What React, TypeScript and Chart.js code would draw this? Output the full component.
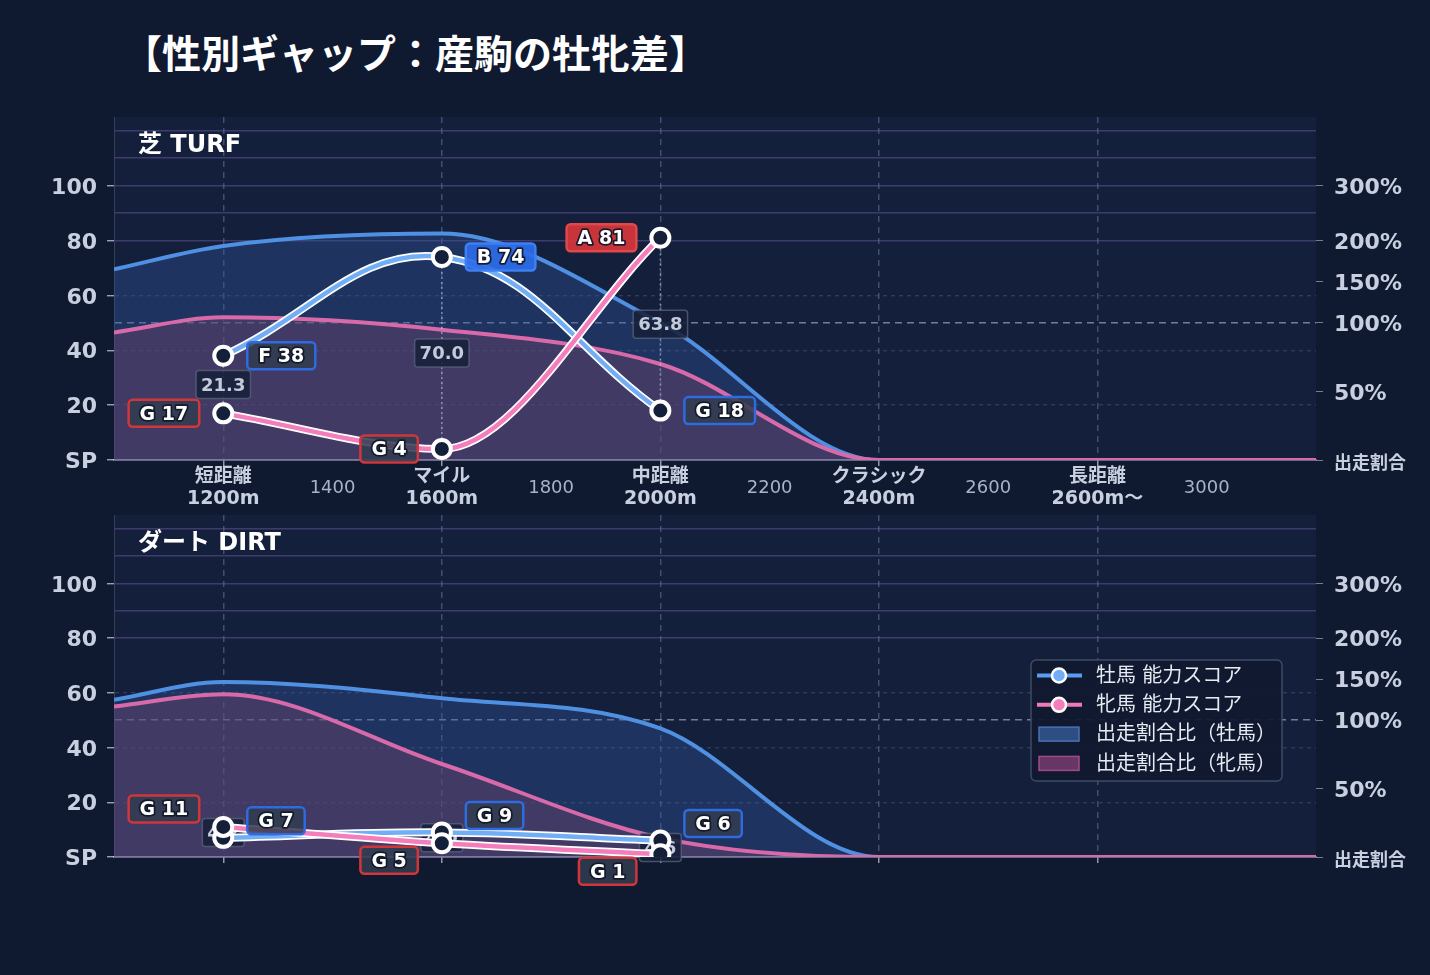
import React, { useEffect, useRef } from 'react';
import { Chart, registerables } from 'chart.js';

Chart.register(...registerables);

const LATIN = "'DejaVu Sans', 'Noto Sans CJK JP', sans-serif";
const CJK = "'Noto Sans CJK JP', 'DejaVu Sans', sans-serif";
const PAGE_BG = '#0f192f';
const PLOT_BG = '#131f3b';

// ---- data ----
const scoreDistances = [1200, 1600, 2000];
const turfMaleScores = [38, 74, 18];
const turfFemaleScores = [17, 4, 81];
const turfMaleGrades = ['F', 'B', 'G'];
const turfFemaleGrades = ['G', 'G', 'A'];
const turfGapLabels = ['21.3', '70.0', '63.8'];

const dirtMaleScores = [7, 9, 6];
const dirtFemaleScores = [11, 5, 1];
const dirtMaleGrades = ['G', 'G', 'G'];
const dirtFemaleGrades = ['G', 'G', 'G'];
const dirtGapLabels = ['4.2', '4.0', '4.6'];

const shareDistances = [1000, 1200, 1600, 2000, 2400, 2800, 3200];
const turfMaleShare = [69.5, 78, 82.5, 50, 0, 0, 0];
const turfFemaleShare = [46.5, 52, 47.5, 35, 0, 0, 0];
const dirtMaleShare = [57.5, 64, 58, 47, 0, 0, 0];
const dirtFemaleShare = [55, 59.5, 34, 7, 0, 0, 0];

const xTickValues = [1200, 1400, 1600, 1800, 2000, 2200, 2400, 2600, 2800, 3000];
const xCategoryLabels: Record<number, string[]> = {
  1200: ['短距離', '1200m'],
  1600: ['マイル', '1600m'],
  2000: ['中距離', '2000m'],
  2400: ['クラシック', '2400m'],
  2800: ['長距離', '2600m〜'],
};
const yGridValues = [0, 10, 20, 30, 40, 50, 60, 70, 80, 90, 100, 110, 120];
const leftTickLabels: Record<number, string> = { 0: 'SP', 20: '20', 40: '40', 60: '60', 80: '80', 100: '100' };
const rightTickValues = [0, 25, 50, 65, 80, 100];
const rightTickLabels = ['出走割合', '50%', '100%', '150%', '200%', '300%'];
const legendLabels = ['牡馬 能力スコア', '牝馬 能力スコア', '出走割合比（牡馬）', '出走割合比（牝馬）'];
const panelTitles = ['芝 TURF', 'ダート DIRT'];

// ---- styles ----
const MALE_AREA_LINE = '#4f90e2';
const MALE_AREA_FILL = 'rgba(50,90,160,0.36)';
const FEMALE_AREA_LINE = '#d86aaa';
const FEMALE_AREA_FILL = 'rgba(112,68,108,0.42)';
const MALE_SCORE = '#72aef5';
const FEMALE_SCORE = '#f47dbb';

type Panel = {
  key: string;
  title: string;
  maleShare: number[];
  femaleShare: number[];
  maleScores: number[];
  femaleScores: number[];
  maleGrades: string[];
  femaleGrades: string[];
  gapLabels: string[];
  showXLabels: boolean;
  showLegend: boolean;
  topPad: number;
  xHeight: number;
};

function rr(ctx: CanvasRenderingContext2D, x: number, y: number, w: number, h: number, r: number) {
  ctx.beginPath();
  ctx.moveTo(x + r, y);
  ctx.lineTo(x + w - r, y);
  ctx.arcTo(x + w, y, x + w, y + r, r);
  ctx.lineTo(x + w, y + h - r);
  ctx.arcTo(x + w, y + h, x + w - r, y + h, r);
  ctx.lineTo(x + r, y + h);
  ctx.arcTo(x, y + h, x, y + h - r, r);
  ctx.lineTo(x, y + r);
  ctx.arcTo(x, y, x + r, y, r);
  ctx.closePath();
}

function gradeStyle(grade: string, sex: 'm' | 'f') {
  if (grade === 'A' || grade === 'B' || grade === 'S') {
    return sex === 'm'
      ? { fill: 'rgba(44,108,232,0.93)', stroke: '#3d80f2' }
      : { fill: 'rgba(214,54,58,0.93)', stroke: '#e0484c' };
  }
  return { fill: 'rgba(50,60,80,0.86)', stroke: sex === 'm' ? '#2e6ae0' : '#d0363a' };
}

function drawScoreLabel(ctx: CanvasRenderingContext2D, text: string, anchorX: number, cy: number, side: 'right' | 'left', st: { fill: string; stroke: string }) {
  ctx.save();
  ctx.font = `bold 19px ${LATIN}`;
  const w = ctx.measureText(text).width + 22;
  const h = 27;
  const x = side === 'right' ? anchorX : anchorX - w;
  rr(ctx, x, cy - h / 2, w, h, 4);
  ctx.fillStyle = st.fill;
  ctx.fill();
  ctx.lineWidth = 2.5;
  ctx.strokeStyle = st.stroke;
  ctx.stroke();
  ctx.textAlign = 'center';
  ctx.textBaseline = 'middle';
  ctx.lineJoin = 'round';
  ctx.lineWidth = 3.5;
  ctx.strokeStyle = 'rgba(18,24,40,0.95)';
  ctx.strokeText(text, x + w / 2, cy + 1.5);
  ctx.fillStyle = '#ffffff';
  ctx.fillText(text, x + w / 2, cy + 1.5);
  ctx.restore();
}

function overlayPlugin(p: Panel) {
  return {
    id: 'overlay-' + p.key,
    beforeDraw(chart: any) {
      const { ctx, chartArea: a } = chart;
      ctx.save();
      ctx.fillStyle = PLOT_BG;
      ctx.fillRect(a.left, a.top, a.right - a.left, a.bottom - a.top);
      ctx.restore();
    },
    afterDatasetDraw(chart: any, args: any) {
      if (args.index !== 1) return;
      const ctx: CanvasRenderingContext2D = chart.ctx;
      const xs = chart.scales.x;
      const ys = chart.scales.y;
      scoreDistances.forEach((d, i) => {
        const px = xs.getPixelForValue(d);
        const ym = ys.getPixelForValue(p.maleScores[i]);
        const yf = ys.getPixelForValue(p.femaleScores[i]);
        ctx.save();
        ctx.setLineDash([2, 3]);
        ctx.strokeStyle = 'rgba(205,212,232,0.55)';
        ctx.lineWidth = 1.5;
        ctx.beginPath();
        ctx.moveTo(px, ym);
        ctx.lineTo(px, yf);
        ctx.stroke();
        ctx.setLineDash([]);
        const cy = (ym + yf) / 2;
        ctx.font = `bold 18px ${LATIN}`;
        const text = p.gapLabels[i];
        const w = ctx.measureText(text).width + 10;
        const h = 28;
        rr(ctx, px - w / 2, cy - h / 2, w, h, 3);
        ctx.fillStyle = 'rgba(22,32,58,0.88)';
        ctx.fill();
        ctx.strokeStyle = 'rgba(90,100,125,0.75)';
        ctx.lineWidth = 1.5;
        ctx.stroke();
        ctx.fillStyle = '#c3cbdb';
        ctx.textAlign = 'center';
        ctx.textBaseline = 'middle';
        ctx.fillText(text, px, cy + 1.5);
        ctx.restore();
      });
    },
    afterDatasetsDraw(chart: any) {
      const ctx: CanvasRenderingContext2D = chart.ctx;
      const a = chart.chartArea;
      const xs = chart.scales.x;
      const ys = chart.scales.y;
      scoreDistances.forEach((d, i) => {
        const px = xs.getPixelForValue(d);
        const ym = ys.getPixelForValue(p.maleScores[i]);
        const yf = ys.getPixelForValue(p.femaleScores[i]);
        let dm = 0;
        let df = 0;
        if (Math.abs(ym - yf) < 30) {
          dm = -17;
          df = p.femaleScores[i] > p.maleScores[i] ? -18 : 17;
        }
        drawScoreLabel(ctx, `${p.maleGrades[i]} ${p.maleScores[i]}`, px + 24, ym + dm, 'right', gradeStyle(p.maleGrades[i], 'm'));
        drawScoreLabel(ctx, `${p.femaleGrades[i]} ${p.femaleScores[i]}`, px - 24, yf + df, 'left', gradeStyle(p.femaleGrades[i], 'f'));
      });

      // panel title
      ctx.save();
      ctx.font = `bold 24px ${LATIN}`;
      ctx.fillStyle = '#ffffff';
      ctx.textAlign = 'left';
      ctx.textBaseline = 'middle';
      ctx.fillText(p.title, a.left + 24, a.top + 28.5);
      ctx.restore();

      if (p.showLegend) {
        ctx.save();
        ctx.font = `20px ${LATIN}`;
        const tw = Math.max(...legendLabels.map((t) => ctx.measureText(t).width));
        const w = 65 + tw + 6;
        const h = 121;
        const x0 = a.right - 34 - w;
        const y0 = a.top + 145;
        rr(ctx, x0, y0, w, h, 5);
        ctx.fillStyle = 'rgba(16,25,46,0.93)';
        ctx.fill();
        ctx.strokeStyle = 'rgba(72,84,108,0.85)';
        ctx.lineWidth = 1.5;
        ctx.stroke();
        legendLabels.forEach((t, i) => {
          const cy = y0 + 15.5 + i * 29.3;
          if (i < 2) {
            const col = i === 0 ? MALE_SCORE : FEMALE_SCORE;
            const lc = i === 0 ? '#5b9bf0' : '#f07ab5';
            ctx.strokeStyle = lc;
            ctx.lineWidth = 4;
            ctx.beginPath();
            ctx.moveTo(x0 + 6, cy);
            ctx.lineTo(x0 + 51, cy);
            ctx.stroke();
            ctx.beginPath();
            ctx.arc(x0 + 28, cy, 7, 0, Math.PI * 2);
            ctx.fillStyle = col;
            ctx.fill();
            ctx.strokeStyle = '#ffffff';
            ctx.lineWidth = 2.5;
            ctx.stroke();
          } else {
            ctx.fillStyle = i === 2 ? 'rgba(55,95,160,0.75)' : 'rgba(120,60,110,0.85)';
            ctx.strokeStyle = i === 2 ? 'rgba(80,120,190,0.9)' : 'rgba(170,80,140,0.9)';
            ctx.lineWidth = 1.5;
            ctx.fillRect(x0 + 8, cy - 7, 40, 14);
            ctx.strokeRect(x0 + 8, cy - 7, 40, 14);
          }
          ctx.fillStyle = '#e6eaf2';
          ctx.textAlign = 'left';
          ctx.textBaseline = 'middle';
          ctx.fillText(t, x0 + 65, cy + 1);
        });
        ctx.restore();
      }
    },
  };
}

const toXY = (xs: number[], ys: number[]) => xs.map((x, i) => ({ x, y: ys[i] }));

function yGridColor(v: any) {
  if (v === 50) return 'rgba(175,185,205,0.62)';
  if (v === 20 || v === 40 || v === 60) return 'rgba(105,118,155,0.32)';
  if (typeof v === 'number' && v >= 80) return 'rgba(118,95,170,0.45)';
  return 'rgba(0,0,0,0)';
}
function yGridDash(v: any) {
  if (v === 50) return [7, 5];
  if (v === 20 || v === 40 || v === 60) return [4, 4];
  return [];
}

function makeConfig(p: Panel): any {
  const isCat = (v: any) => xCategoryLabels[v] !== undefined;
  return {
    type: 'line',
    data: {
      datasets: [
        {
          label: legendLabels[2],
          data: toXY(shareDistances, p.maleShare),
          borderColor: MALE_AREA_LINE,
          backgroundColor: MALE_AREA_FILL,
          fill: 'origin',
          borderWidth: 4,
          pointRadius: 0,
          cubicInterpolationMode: 'monotone',
          order: 10,
        },
        {
          label: legendLabels[3],
          data: toXY(shareDistances, p.femaleShare),
          borderColor: FEMALE_AREA_LINE,
          backgroundColor: FEMALE_AREA_FILL,
          fill: 'origin',
          borderWidth: 4,
          pointRadius: 0,
          cubicInterpolationMode: 'monotone',
          order: 9,
        },
        {
          label: 'male-outline',
          data: toXY(scoreDistances, p.maleScores),
          borderColor: '#ffffff',
          borderWidth: 8,
          pointRadius: 0,
          fill: false,
          tension: 0.4,
          order: 6,
        },
        {
          label: legendLabels[0],
          data: toXY(scoreDistances, p.maleScores),
          borderColor: MALE_SCORE,
          borderWidth: 4.5,
          pointRadius: 9,
          pointBackgroundColor: '#14203a',
          pointBorderColor: '#ffffff',
          pointBorderWidth: 4,
          fill: false,
          tension: 0.4,
          order: 5,
        },
        {
          label: 'female-outline',
          data: toXY(scoreDistances, p.femaleScores),
          borderColor: '#ffffff',
          borderWidth: 8,
          pointRadius: 0,
          fill: false,
          cubicInterpolationMode: 'monotone',
          order: 4,
        },
        {
          label: legendLabels[1],
          data: toXY(scoreDistances, p.femaleScores),
          borderColor: FEMALE_SCORE,
          borderWidth: 4.5,
          pointRadius: 9,
          pointBackgroundColor: '#14203a',
          pointBorderColor: '#ffffff',
          pointBorderWidth: 4,
          fill: false,
          cubicInterpolationMode: 'monotone',
          order: 3,
        },
      ],
    },
    options: {
      responsive: true,
      maintainAspectRatio: false,
      animation: false,
      events: [],
      layout: { padding: { top: p.topPad, left: 0, right: 0, bottom: 0 } },
      plugins: { legend: { display: false }, tooltip: { enabled: false }, title: { display: false } },
      scales: {
        x: {
          type: 'linear',
          min: 1000,
          max: 3200,
          afterBuildTicks: (s: any) => {
            s.ticks = xTickValues.map((v) => ({ value: v }));
          },
          afterFit: (s: any) => {
            s.height = p.xHeight;
            s.paddingLeft = 0;
            s.paddingRight = 0;
          },
          grid: {
            color: (c: any) => (c.tick && isCat(c.tick.value) ? 'rgba(112,126,165,0.5)' : 'rgba(0,0,0,0)'),
            lineWidth: 1.5,
            tickColor: (c: any) => (c.tick && isCat(c.tick.value) ? 'rgba(200,205,230,0.7)' : 'rgba(0,0,0,0)'),
            tickLength: 6,
          },
          border: { display: true, color: 'rgba(205,205,240,0.9)', width: 1.5, dash: (c: any) => (c.tick ? [6, 5] : []) },
          ticks: {
            display: p.showXLabels,
            autoSkip: false,
            maxRotation: 0,
            minRotation: 0,
            padding: 11,
            crossAlign: 'center',
            callback: (v: any) => xCategoryLabels[v] ?? String(v),
            font: (c: any) =>
              c.tick && isCat(c.tick.value)
                ? { family: LATIN, size: 19, weight: 'bold', lineHeight: 22 / 19 }
                : { family: LATIN, size: 18, weight: 'normal', lineHeight: 22 / 18 },
            color: (c: any) => (c.tick && isCat(c.tick.value) ? '#c8d0e0' : '#a9b3c7'),
          },
        },
        y: {
          position: 'left',
          min: 0,
          max: 125,
          afterBuildTicks: (s: any) => {
            s.ticks = yGridValues.map((v) => ({ value: v }));
          },
          afterFit: (s: any) => {
            s.width = 114;
            s.paddingTop = 0;
            s.paddingBottom = 0;
          },
          grid: {
            color: (c: any) => yGridColor(c.tick ? c.tick.value : undefined),
            lineWidth: (c: any) => (c.tick && c.tick.value === 50 ? 1.6 : 1.4),
            tickColor: (c: any) => (c.tick && leftTickLabels[c.tick.value] !== undefined ? 'rgba(200,208,225,0.75)' : 'rgba(0,0,0,0)'),
            tickLength: 7,
          },
          border: { display: true, color: 'rgba(90,102,135,0.45)', width: 1, dash: (c: any) => (c.tick ? yGridDash(c.tick.value) : []) },
          ticks: {
            autoSkip: false,
            padding: 10,
            labelOffset: 2.5,
            color: '#c8d0e0',
            font: { family: LATIN, size: 22, weight: 'bold' },
            callback: (v: any) => leftTickLabels[v] ?? '',
          },
        },
        y2: {
          position: 'right',
          min: 0,
          max: 125,
          afterBuildTicks: (s: any) => {
            s.ticks = rightTickValues.map((v) => ({ value: v }));
          },
          afterFit: (s: any) => {
            s.width = 114;
            s.paddingTop = 0;
            s.paddingBottom = 0;
          },
          grid: { drawOnChartArea: false, tickColor: 'rgba(200,208,225,0.55)', tickLength: 7 },
          border: { display: false },
          ticks: {
            autoSkip: false,
            padding: 11,
            labelOffset: 2.5,
            color: '#c8d0e0',
            font: (c: any) =>
              c.tick && c.tick.value === 0
                ? { family: CJK, size: 18, weight: 'bold' }
                : { family: LATIN, size: 22, weight: 'bold' },
            callback: (v: any) => rightTickLabels[rightTickValues.indexOf(v)] ?? '',
          },
        },
      },
    },
    plugins: [overlayPlugin(p)],
  };
}

const turfPanel: Panel = {
  key: 'turf',
  title: panelTitles[0],
  maleShare: turfMaleShare,
  femaleShare: turfFemaleShare,
  maleScores: turfMaleScores,
  femaleScores: turfFemaleScores,
  maleGrades: turfMaleGrades,
  femaleGrades: turfFemaleGrades,
  gapLabels: turfGapLabels,
  showXLabels: true,
  showLegend: false,
  topPad: 30,
  xHeight: 53,
};

const dirtPanel: Panel = {
  key: 'dirt',
  title: panelTitles[1],
  maleShare: dirtMaleShare,
  femaleShare: dirtFemaleShare,
  maleScores: dirtMaleScores,
  femaleScores: dirtFemaleScores,
  maleGrades: dirtMaleGrades,
  femaleGrades: dirtFemaleGrades,
  gapLabels: dirtGapLabels,
  showXLabels: false,
  showLegend: true,
  topPad: 30,
  xHeight: 43,
};

export default function App() {
  const turfRef = useRef<HTMLCanvasElement>(null);
  const dirtRef = useRef<HTMLCanvasElement>(null);

  useEffect(() => {
    document.body.style.margin = '0';
    document.body.style.background = PAGE_BG;
    const c1 = new Chart(turfRef.current as HTMLCanvasElement, makeConfig(turfPanel));
    const c2 = new Chart(dirtRef.current as HTMLCanvasElement, makeConfig(dirtPanel));
    return () => {
      c1.destroy();
      c2.destroy();
    };
  }, []);

  return (
    <div style={{ position: 'relative', width: 1430, height: 975, background: PAGE_BG, overflow: 'hidden' }}>
      <div
        style={{
          position: 'absolute',
          left: 123,
          top: 24,
          fontSize: 39,
          fontWeight: 700,
          color: '#ffffff',
          fontFamily: CJK,
          lineHeight: '54px',
          whiteSpace: 'nowrap',
        }}
      >
        【性別ギャップ：産駒の牡牝差】
      </div>
      <div style={{ position: 'absolute', left: 0, top: 87, width: 1430, height: 426 }}>
        <canvas ref={turfRef} />
      </div>
      <div style={{ position: 'absolute', left: 0, top: 485, width: 1430, height: 415 }}>
        <canvas ref={dirtRef} />
      </div>
    </div>
  );
}
